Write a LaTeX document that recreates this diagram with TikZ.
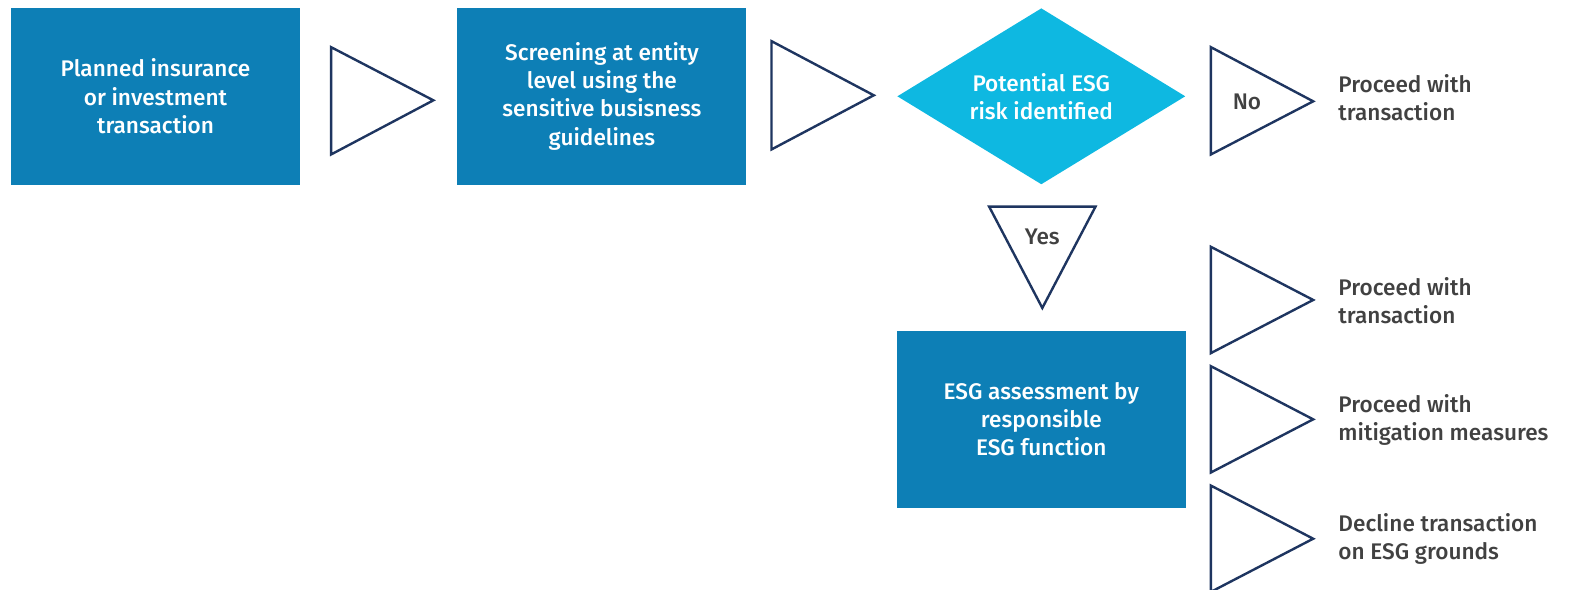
\documentclass[tikz,border=0pt]{standalone}
\usepackage{fontspec}
\setmainfont{Fira Sans}[UprightFont={* Medium}]
\usetikzlibrary{shapes.geometric}
\definecolor{boxblue}{HTML}{0D7FB6}
\definecolor{lightblue}{HTML}{0EB8E1}
\definecolor{navy}{HTML}{1E3560}
\definecolor{txtgray}{HTML}{414141}
\tikzset{
  procbox/.style={fill=boxblue, draw=none, minimum width=289pt, minimum height=177pt, inner sep=0pt},
  boxtext/.style={text=white, align=center, font=\fontsize{22.6}{28.2}\selectfont},
  sidetext/.style={text=txtgray, align=left, anchor=west, inner sep=0pt, font=\fontsize{22.6}{28.2}\selectfont},
  tri/.style={draw=navy, line width=2.4pt, fill=white, line join=miter},
}
\begin{document}
\begin{tikzpicture}[x=1.00319pt,y=-1.00319pt]
\useasboundingbox (0,0) rectangle (1568,588);
% boxes
\node[procbox] (b1) at (155,96) {};
\node[boxtext] (t1) at (b1.center) {Planned insurance\\or investment\\transaction};
\node[procbox] (b2) at (600,96) {};
\node[boxtext] (t2) at (b2.center) {Screening at entity\\level using the\\sensitive busisness\\guidelines};
\node[diamond, fill=lightblue, minimum width=288pt, minimum height=176pt, inner sep=0pt] (d) at (1038,96) {};
\node[boxtext] (td) at (d.center) {Potential ESG\\risk identified};
\node[procbox] (b3) at (1038,418) {};
\node[boxtext] (t3) at (b3.center) {ESG assessment by\\responsible\\ESG function};
% triangles
\draw[tri] (330,47) -- (432,100) -- (330,154) -- cycle;
\draw[tri] (769,41) -- (871,95) -- (769,149) -- cycle;
\draw[tri] (1207,47) -- (1309,101) -- (1207,154) -- cycle;
\node[text=txtgray, font=\fontsize{22.6}{26}\selectfont] (no) at (1243,102) {No};
\draw[tri] (986,206) -- (1092,206) -- (1039,307) -- cycle;
\node[text=txtgray, font=\fontsize{22.6}{26}\selectfont] (yes) at (1039,236) {Yes};
\draw[tri] (1207,246) -- (1309,299) -- (1207,352) -- cycle;
\draw[tri] (1207,365) -- (1309,418) -- (1207,471) -- cycle;
\draw[tri] (1207,484) -- (1309,537) -- (1207,590) -- cycle;
% side texts
\node[sidetext] (s1) at (1334,97) {Proceed with\\transaction};
\node[sidetext] (s2) at (1334,300) {Proceed with\\transaction};
\node[sidetext] (s3) at (1334,419) {Proceed with\\mitigation measures};
\node[sidetext] (s4) at (1334,537) {Decline transaction\\on ESG grounds};
\end{tikzpicture}
\end{document}
